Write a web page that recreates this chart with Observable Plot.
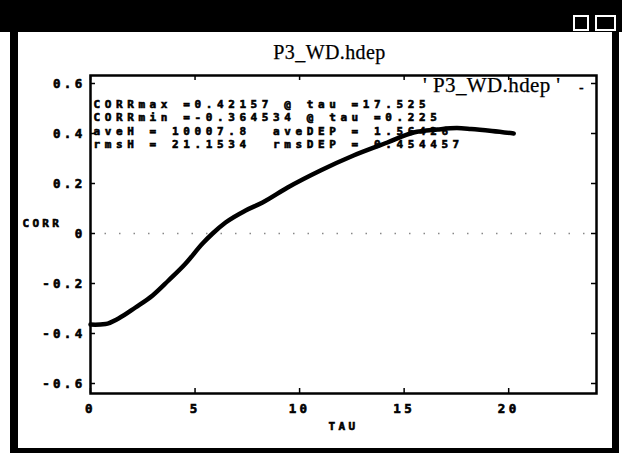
<!DOCTYPE html>
<html>
<head>
<meta charset="utf-8">
<script src="https://cdn.jsdelivr.net/npm/d3@7"></script>
<script src="https://cdn.jsdelivr.net/npm/@observablehq/plot@0.6"></script>
<style>
  html, body { margin: 0; padding: 0; background: #fff; }
  #wrap { position: relative; width: 631px; height: 455px; overflow: hidden; }
  #wrap svg { position: absolute; left: 0; top: 0; }
  #wrap svg text { letter-spacing: 3.3px; stroke: #000; stroke-width: 0.6px; }
  #wrap svg g[font-family*="Serif"] text { letter-spacing: 0.4px; stroke-width: 0.25px; }
  .chrome { position: absolute; background: #000; }
  .btn { position: absolute; border: 2px solid #fff; box-sizing: border-box; }
</style>
</head>
<body>
<div id="wrap"></div>
<script>
// ---- data ----
const tau  = [0, 0.225, 0.72, 1.34, 2.15, 2.97, 3.73, 4.55, 5.36, 5.84, 6.46, 7.42, 8.23, 9.43, 11.0, 12.58, 14.2, 15.45, 16.6, 17.525, 18.2, 19.2, 20.24];
const corr = [-0.3643, -0.3645, -0.362, -0.34, -0.296, -0.248, -0.188, -0.12, -0.04, 0.0, 0.044, 0.092, 0.124, 0.184, 0.252, 0.312, 0.364, 0.404, 0.416, 0.4216, 0.418, 0.41, 0.40];
const xTicks = [0, 5, 10, 15, 20];
const yTicks = [-0.6, -0.4, -0.2, 0, 0.2, 0.4, 0.6];
const titleText = "P3_WD.hdep";
const legendText = "' P3_WD.hdep '";
const xLabel = "TAU";
const yLabel = "CORR";
const statLines = [
  "CORRmax =0.42157 @ tau =17.525",
  "CORRmin =-0.364534 @ tau =0.225",
  "aveH = 10007.8  aveDEP = 1.56426",
  "rmsH = 21.1534  rmsDEP = 0.454457"
];

const data = tau.map((t, i) => ({tau: t, corr: corr[i]}));

const W = 631, H = 455;
const mL = 90, mR = 35, mT = 75, mB = 62;
const innerW = W - mL - mR, innerH = H - mT - mB;
const mono = "'DejaVu Sans Mono', 'Liberation Mono', monospace";
const serif = "'Liberation Serif', 'DejaVu Serif', serif";

const chart = Plot.plot({
  width: W,
  height: H,
  marginLeft: mL,
  marginRight: mR,
  marginTop: mT,
  marginBottom: mB,
  x: {domain: [0, 24.2]},
  y: {domain: [-0.64, 0.632]},
  style: {background: "white", color: "black", fontFamily: mono, fontWeight: "bold", fontSize: "12px"},
  marks: [
    Plot.ruleY([0], {stroke: "#888", strokeWidth: 1.5, strokeDasharray: "1.5,13"}),
    Plot.ruleY(yTicks, {insetRight: innerW - 5, strokeWidth: 1.5}),
    Plot.ruleY(yTicks, {insetLeft: innerW - 5, strokeWidth: 1.5}),
    Plot.ruleX(xTicks, {insetTop: innerH - 5, strokeWidth: 1.5}),
    Plot.ruleX(xTicks, {insetBottom: innerH - 5, strokeWidth: 1.5}),
    Plot.frame({stroke: "black", strokeWidth: 2.5}),
    Plot.axisY({ticks: yTicks, tickSize: 0, tickPadding: 5, tickFormat: d => String(d), label: null, fontSize: 12.5}),
    Plot.axisX({ticks: xTicks, tickSize: 0, tickPadding: 11, tickFormat: d => String(d), label: null, fontSize: 12.5}),
    Plot.line(data, {x: "tau", y: "corr", stroke: "black", strokeWidth: 4.5, curve: "monotone-x"}),
    Plot.text([statLines.join("\n")], {frameAnchor: "top-left", dx: 3, dy: 23, lineAnchor: "top", lineHeight: 1.21, textAnchor: "start", fontSize: 11, fontFamily: "DejaVu Sans Mono"}),
    Plot.text([legendText], {frameAnchor: "top-right", dx: -36, dy: 10, textAnchor: "end", lineAnchor: "middle", fontFamily: serif, fontWeight: "normal", fontSize: 21}),
    Plot.text(["-"], {frameAnchor: "top-right", dx: -15, dy: 12, textAnchor: "middle", lineAnchor: "middle", fontFamily: serif, fontWeight: "bold", fontSize: 14}),
    Plot.text([titleText], {frameAnchor: "top", dx: -14, dy: -23, textAnchor: "middle", lineAnchor: "middle", fontFamily: serif, fontWeight: "normal", fontSize: 20}),
    Plot.text([yLabel], {frameAnchor: "left", dx: -68, dy: -11, textAnchor: "start", lineAnchor: "middle", fontSize: 11}),
    Plot.text([xLabel], {frameAnchor: "bottom", dx: 0, dy: 33, textAnchor: "middle", lineAnchor: "middle", fontSize: 11})
  ]
});

// wider letter spacing for the statistics block (smaller font, same width)
d3.select(chart).selectAll('g[font-family="DejaVu Sans Mono"] text').style("letter-spacing", "4.6px");

const wrap = document.getElementById("wrap");
wrap.appendChild(chart);

// window chrome (title bar and borders of the scanned window)
const chrome = [
  [0, 0, 622, 32],
  [10, 32, 8, 421],
  [612, 32, 7, 421],
  [10, 448, 609, 5]
];
for (const [l, t, w, h] of chrome) {
  const d = document.createElement("div");
  d.className = "chrome";
  Object.assign(d.style, {left: l + "px", top: t + "px", width: w + "px", height: h + "px"});
  wrap.appendChild(d);
}
for (const [l, t, w, h] of [[573, 15, 16, 16], [595, 15, 21, 16]]) {
  const b = document.createElement("div");
  b.className = "btn";
  Object.assign(b.style, {left: l + "px", top: t + "px", width: w + "px", height: h + "px"});
  wrap.appendChild(b);
}
</script>
</body>
</html>
